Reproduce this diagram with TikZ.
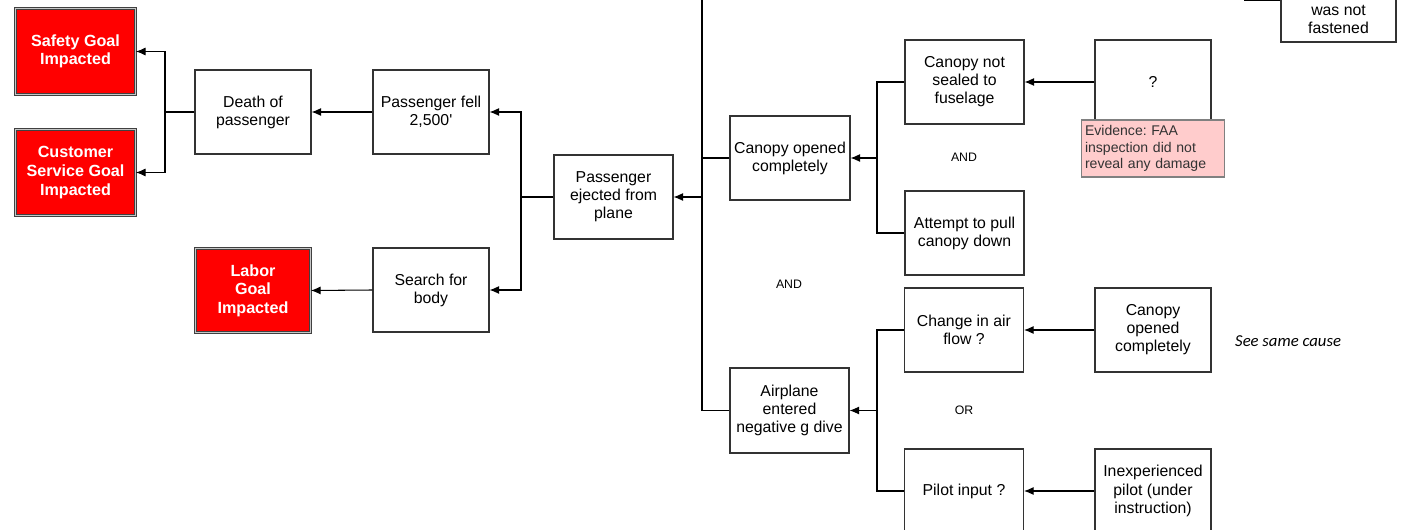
\documentclass[tikz,border=0pt]{standalone}
\usepackage{fontspec}
\setmainfont{Liberation Sans}
\newfontfamily\notefont{Carlito}
\usetikzlibrary{arrows.meta}

\begin{document}
\begin{tikzpicture}[x=0.02cm,y=-0.02cm]
		\tikzstyle{CauseStyle}=[draw=black!80,line width=0.6pt,fill=white,minimum width=2.32cm,minimum height=1.68cm,align=center,inner sep=1pt,font=\fontsize{9}{10.3}\selectfont]
		\tikzstyle{GoalStyle}=[draw=black!75,double=gray!45,double distance=1pt,line width=0.5pt,fill=red,text=white,minimum width=2.4cm,minimum height=1.72cm,align=center,inner sep=1pt,font=\fontsize{9.2}{10.6}\selectfont\bfseries]
		\tikzstyle{GateStyle}=[font=\fontsize{7}{8}\selectfont]
		\tikzstyle{NoteStyle}=[draw=gray,line width=0.6pt,fill={rgb,255:red,255;green,204;blue,204},text=black!80,text width=2.72cm,minimum height=1.14cm,align=left,inner xsep=2pt,inner ysep=1pt,font=\fontsize{8}{9.2}\selectfont\frenchspacing]
		\tikzstyle{EdgeStyle}=[line width=0.6pt]
		\tikzstyle{PostStyle}=[EdgeStyle,-{Latex[length=5.5pt,width=4.6pt]}]
		\useasboundingbox (0,0) rectangle (1401,530);
		\clip (0,0) rectangle (1401,530);
		% goals
		\node[GoalStyle] (S) at (75.5,51.5) {Safety Goal\\Impacted};
		\node[GoalStyle] (C) at (75.5,172.5) {Customer\\Service Goal\\Impacted};
		\node[GoalStyle,minimum width=2.3cm,minimum height=1.68cm] (L) at (253,290.5) {Labor\\Goal\\Impacted};
		% effects
		\node[CauseStyle] (D) at (253,112) {Death of\\passenger};
		\node[CauseStyle] (F) at (431,112) {Passenger fell\\2,500\textquotesingle};
		\node[CauseStyle] (B) at (431,290) {Search for\\body};
		\node[CauseStyle,minimum width=2.38cm] (E) at (613.5,197) {Passenger\\ejected from\\plane};
		\node[CauseStyle,minimum width=2.4cm] (O) at (790,158) {Canopy opened\\completely};
		\node[CauseStyle,minimum width=2.38cm,minimum height=1.7cm] (A) at (789.5,410.5) {Airplane\\entered\\negative g dive};
		% causes
		\node[CauseStyle,minimum width=2.38cm] (N) at (964.5,82) {Canopy not\\sealed to\\fuselage};
		\node[CauseStyle,minimum width=2.38cm] (P) at (964.5,233) {Attempt to pull\\canopy down};
		\node[CauseStyle,minimum width=2.38cm] (G) at (964,330) {Change in air\\flow ?};
		\node[CauseStyle,minimum width=2.38cm] (I) at (964,491) {Pilot input ?};
		\node[CauseStyle] (Q) at (1153,82) {?};
		\node[NoteStyle] (V) at (1153,148.5) {Evidence: FAA\\inspection did not\\reveal any damage};
		\node[CauseStyle] (R) at (1153,330) {Canopy\\opened\\completely};
		\node[CauseStyle] (X) at (1153,491) {Inexperienced\\pilot (under\\instruction)};
		\node[CauseStyle,minimum width=2.3cm] (T) at (1338.5,0) {};
		\node[font=\fontsize{9}{10.3}\selectfont,align=center] (Tl) at (1338.5,19.5) {was not\\fastened};
		\node[anchor=west,font=\notefont\itshape\fontsize{9.5}{11}\selectfont] (Z) at (1229,341) {See same cause};
		% gates
		\node[GateStyle] (G1) at (964,157) {AND};
		\node[GateStyle] (G2) at (789,284) {AND};
		\node[GateStyle] (G3) at (964,410) {OR};
		% edges
		\draw[EdgeStyle] (D.west) -- (165,112) coordinate (j1);
		\draw[PostStyle] (j1) |- (S.east);
		\draw[PostStyle] (j1) |- (C.east);
		\draw[PostStyle] (F.west) -- (D.east);
		\draw[PostStyle] (B.west) -- (L.east);
		\draw[EdgeStyle] (E.west) -- (521,197) coordinate (j2);
		\draw[PostStyle] (j2) |- (F.east);
		\draw[PostStyle] (j2) |- (B.east);
		\coordinate (t1) at (702,-5);
		\draw[EdgeStyle] (t1) |- (A.west);
		\draw[EdgeStyle] (O.west) -- (t1 |- O.west);
		\draw[PostStyle] (t1 |- E.east) -- (E.east);
		\coordinate (j3) at (877,158);
		\draw[EdgeStyle] (N.west) -| (j3) |- (P.west);
		\draw[PostStyle] (j3) -- (O.east);
		\coordinate (j4) at (877,410.5);
		\draw[EdgeStyle] (G.west) -| (j4) |- (I.west);
		\draw[PostStyle] (j4) -- (A.east);
		\draw[PostStyle] (Q.west) -- (N.east);
		\draw[PostStyle] (R.west) -- (G.east);
		\draw[PostStyle] (X.west) -- (I.east);
		\draw[EdgeStyle] (T.west) -- ++(-36,0);
	\end{tikzpicture}
\end{document}
